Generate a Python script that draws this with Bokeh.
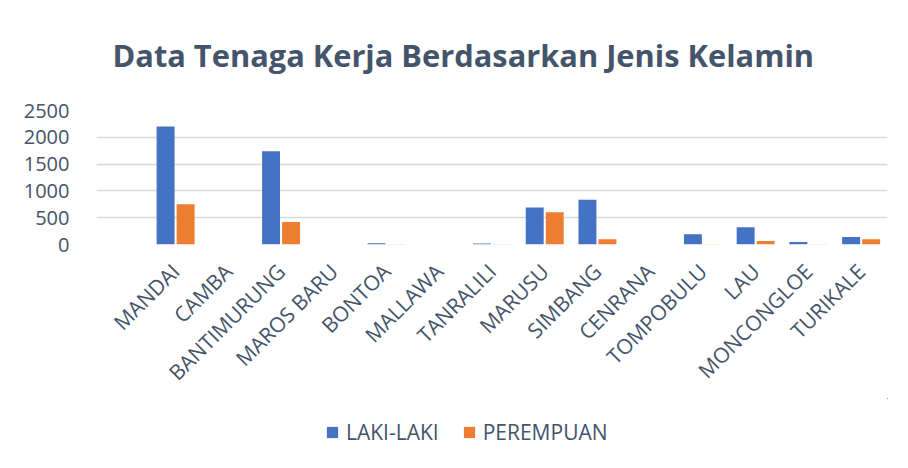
import numpy as np
from math import pi
from bokeh.plotting import figure
from bokeh.layouts import column
from bokeh.models import (ColumnDataSource, Range1d, FixedTicker, SingleIntervalTicker,
                          Legend, LegendItem, Title)
from bokeh.transform import dodge
from bokeh.embed import file_html
from bokeh.resources import INLINE

categories = ["MANDAI", "CAMBA", "BANTIMURUNG", "MAROS BARU", "BONTOA", "MALLAWA",
              "TANRALILI", "MARUSU", "SIMBANG", "CENRANA", "TOMPOBULU", "LAU",
              "MONCONGLOE", "TURIKALE"]
laki_laki = [2200, 0, 1740, 0, 25, 0, 20, 690, 835, 0, 190, 320, 45, 140]
perempuan = [750, 0, 420, 0, 5, 0, 5, 600, 100, 0, 5, 65, 5, 100]
series_names = ["LAKI-LAKI", "PEREMPUAN"]
series_cols = ["laki", "perempuan"]
series_colors = ["#4472C4", "#ED7D31"]

FONT = "Open Sans"
TXT = "#44546A"

idx = list(range(len(categories)))
src = ColumnDataSource(dict(x=idx, laki=laki_laki, perempuan=perempuan))

p = figure(width=908, height=398, output_backend="svg", toolbar_location=None,
           x_range=Range1d(-1.5, len(categories) - 0.5), y_range=Range1d(0, 2500),
           min_border_left=96, min_border_right=21, min_border_top=110,
           min_border_bottom=150)

p.title = Title(text="Data Tenaga Kerja Berdasarkan Jenis Kelamin", align="left",
                vertical_align="top",
                text_font=FONT, text_font_size="30.8px", text_font_style="bold",
                text_color=TXT, standoff=66, offset=16)

p.vbar(x=dodge("x", -0.19), top="laki", width=0.34, source=src,
       fill_color=series_colors[0], line_color=None)
p.vbar(x=dodge("x", 0.19), top="perempuan", width=0.34, source=src,
       fill_color=series_colors[1], line_color=None)

p.outline_line_color = None
p.xgrid.grid_line_color = None
p.ygrid.grid_line_color = "#D9D9D9"
p.ygrid.grid_line_width = 1.5

p.yaxis.ticker = SingleIntervalTicker(interval=500)
p.yaxis.axis_line_color = None
p.yaxis.major_tick_line_color = None
p.yaxis.minor_tick_line_color = None
p.yaxis.major_label_standoff = 21
p.yaxis.major_label_text_font = FONT
p.yaxis.major_label_text_font_size = "20px"
p.yaxis.major_label_text_color = TXT

p.xaxis.ticker = FixedTicker(ticks=idx)
p.xaxis.major_label_overrides = {i: c for i, c in zip(idx, categories)}
p.xaxis.major_label_orientation = pi / 4
p.xaxis.axis_line_color = None
p.xaxis.major_tick_line_color = None
p.xaxis.minor_tick_line_color = None
p.xaxis.major_label_standoff = 17
p.xaxis.major_label_text_font = FONT
p.xaxis.major_label_text_font_size = "21px"
p.xaxis.major_label_text_color = TXT

# legend strip: swatch renderers use the real data as degenerate (zero-size) bars
# placed outside this strip's view, so only their legend swatches show
pl = figure(width=908, height=70, output_backend="svg", toolbar_location=None,
            x_range=Range1d(-10, -9), y_range=Range1d(-10, -9),
            x_axis_location=None, y_axis_location=None,
            min_border_left=0, min_border_right=0, min_border_top=0, min_border_bottom=0)
pl.outline_line_color = None
pl.xgrid.grid_line_color = None
pl.ygrid.grid_line_color = None
items = []
for name, colname, col in zip(series_names, series_cols, series_colors):
    r = pl.vbar(x="x", top=colname, bottom=colname, width=0, source=src,
                fill_color=col, line_color=None)
    items.append(LegendItem(label=name, renderers=[r]))

legend = Legend(items=items, orientation="horizontal", location=(229, 22),
                glyph_width=14, glyph_height=14, label_standoff=7, spacing=23,
                padding=0, margin=0, border_line_color=None,
                background_fill_alpha=0,
                label_text_font=FONT, label_text_font_size="21px",
                label_text_color=TXT)
pl.add_layout(legend, "center")

layout = column(p, pl, spacing=0)
open("out.html", "w").write(file_html(layout, INLINE))
